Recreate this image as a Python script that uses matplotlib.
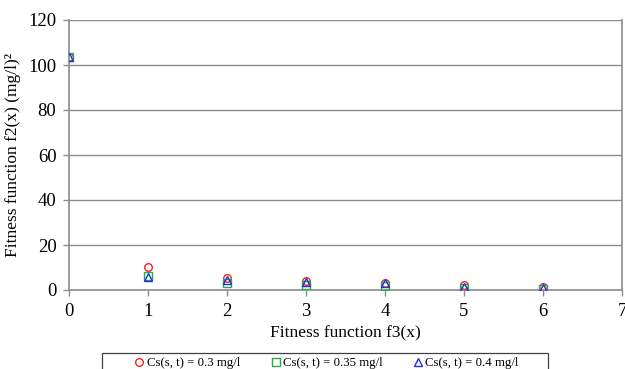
import matplotlib
matplotlib.use("Agg")
import matplotlib.pyplot as plt
from matplotlib.patches import Rectangle

plt.rcParams['font.family'] = ['Liberation Serif', 'DejaVu Serif']

x = [0, 1, 2, 3, 4, 5, 6]
s03 = [103.5, 10.2, 5.3, 4.2, 3.1, 2.1, 1.3]
s035 = [103.5, 6.2, 3.1, 2.2, 1.8, 1.0, 0.5]
s04 = [103.5, 5.8, 4.4, 3.5, 3.0, 1.4, 0.8]
labels = ["Cs(s, t) = 0.3 mg/l", "Cs(s, t) = 0.35 mg/l", "Cs(s, t) = 0.4 mg/l"]

W, H = 625, 369
fig = plt.figure(figsize=(W/100, H/100), dpi=100)
ax = fig.add_axes([69/W, 1 - 290/H, (622 - 69)/W, 270/H])

gray = '#8c8c8c'
ax.plot(x, s03, linestyle='none', marker='o', markersize=5.5, markerfacecolor='none',
        markeredgecolor='#ff2020', markeredgewidth=1.0, label=labels[0], zorder=3)
ax.plot(x, s035, linestyle='none', marker='s', markersize=5.2, markerfacecolor='none',
        markeredgecolor='#20b040', markeredgewidth=1.0, label=labels[1], zorder=3)
ax.plot(x, s04, linestyle='none', marker='^', markersize=5.2, markerfacecolor='none',
        markeredgecolor='#2030e0', markeredgewidth=1.0, label=labels[2], zorder=3)

ax.set_xlim(0, 7)
ax.set_ylim(0, 120)
ax.set_xticks(range(0, 8))
ax.set_yticks(range(0, 121, 20))
ax.yaxis.grid(True, color=gray, linewidth=1.0)
ax.set_axisbelow(True)
ax.spines['top'].set_visible(False)
for sp in ['left', 'bottom', 'right']:
    ax.spines[sp].set_color(gray)
    ax.spines[sp].set_linewidth(1.2)
ax.tick_params(axis='both', colors=gray, labelcolor='black', labelsize=13.5, length=4, width=1)
ax.tick_params(axis='x', pad=5)
ax.tick_params(axis='y', pad=5)

ax.set_xlabel("Fitness function f3(x)", fontsize=12.5, labelpad=4)
ax.set_ylabel("Fitness function f2(x) (mg/l)²", fontsize=12.5, labelpad=5)

fig.patches.append(Rectangle((102/W, -0.05), (548 - 102)/W, 0.05 + 1 - 353/H,
                             transform=fig.transFigure, fill=False, edgecolor='#404040',
                             linewidth=0.9))
leg = fig.legend(loc='center', bbox_to_anchor=(327/W, 1 - 363/H),
                 ncol=3, fontsize=9.2, frameon=False, handlelength=0.6,
                 handletextpad=0.25, columnspacing=2.5, borderpad=0.0)

fig.savefig("out.png", dpi=100)
